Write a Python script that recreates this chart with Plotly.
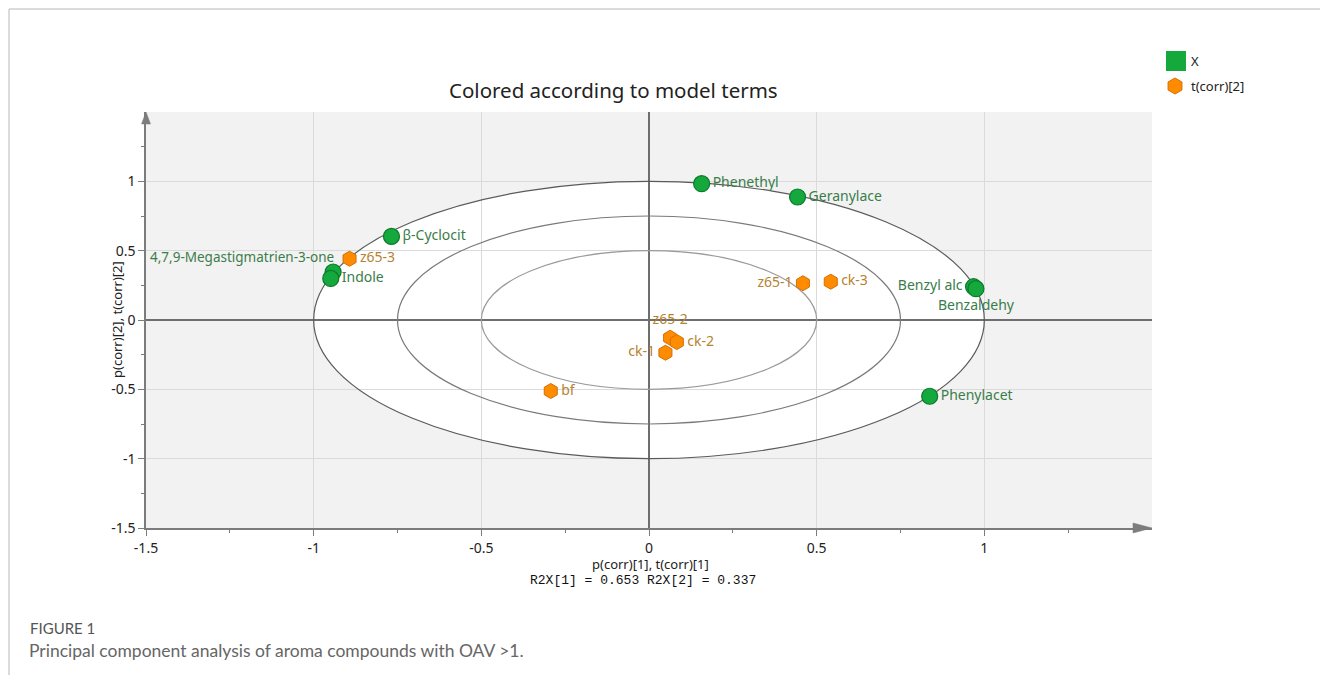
import plotly.graph_objects as go

# ---- loadings of the X variables: p(corr)[1], p(corr)[2] ----
var_names = ["Phenethyl", "Geranylace", "β-Cyclocit", "4,7,9-Megastigmatrien-3-one",
             "Indole", "Benzyl alc", "Benzaldehy", "Phenylacet"]
var_p1 = [0.157, 0.443, -0.768, -0.942, -0.949, 0.968, 0.975, 0.837]
var_p2 = [0.983, 0.887, 0.603, 0.346, 0.300, 0.240, 0.226, -0.550]

# ---- scores of the samples: t(corr)[1], t(corr)[2] ----
obs_names = ["z65-3", "z65-1", "ck-3", "z65-2", "ck-2", "ck-1", "bf"]
obs_t1 = [-0.893, 0.459, 0.542, 0.063, 0.083, 0.049, -0.293]
obs_t2 = [0.442, 0.265, 0.276, -0.128, -0.159, -0.236, -0.512]

# ---- axes / model summary ----
x_ticks = [-1.5, -1, -0.5, 0, 0.5, 1]
y_ticks = [-1.5, -1, -0.5, 0, 0.5, 1]
ellipse_radii = [1.0, 0.75, 0.5]
r2x = [0.653, 0.337]

# label placement for each point (None: placed as a separate annotation)
var_textpos = ["middle right", "middle right", "middle right", None,
               "middle right", "middle left", "bottom center", "middle right"]
obs_textpos = ["middle right", "middle left", "middle right", "top center",
               "middle right", "middle left", "middle right"]

# ---- page geometry ----
W, H = 1320, 675
ML, MR, MT, MB = 146, 168, 112, 147
PW, PH = W - ML - MR, H - MT - MB
XR, YR = [-1.5, 1.5], [-1.5, 1.5]


def px(xpix):
    return (xpix - ML) / PW


def py(ypix):
    return (H - MB - ypix) / PH


FONT = "Noto Sans"
GREEN, GREEN_EDGE, GREEN_TXT = "#14a83d", "#0b7a2b", "#3b7d4a"
ORANGE, ORANGE_EDGE, ORANGE_TXT = "#ff8c00", "#d36f00", "#b5822f"


def fmt(v):
    return f"{v:g}"


fig = go.Figure()

var_text = [n if p is not None else "" for n, p in zip(var_names, var_textpos)]
var_pos = [p if p is not None else "middle right" for p in var_textpos]

fig.add_trace(go.Scatter(
    x=var_p1, y=var_p2, text=var_text, mode="markers+text",
    textposition=var_pos, name="X", showlegend=False,
    marker=dict(symbol="circle", size=16, color=GREEN,
                line=dict(color=GREEN_EDGE, width=1.2)),
    textfont=dict(family=FONT, size=14, color=GREEN_TXT),
    cliponaxis=False,
))

fig.add_trace(go.Scatter(
    x=obs_t1, y=obs_t2, text=obs_names, mode="markers+text",
    textposition=obs_textpos, name="t(corr)[2]", showlegend=False,
    marker=dict(symbol="hexagon", size=15, color=ORANGE,
                line=dict(color=ORANGE_EDGE, width=1)),
    textfont=dict(family=FONT, size=14, color=ORANGE_TXT),
    cliponaxis=False,
))

shapes = []
# white interior of the outer ellipse, under the grid
r_out = max(ellipse_radii)
shapes.append(dict(type="circle", xref="x", yref="y", x0=-r_out, x1=r_out,
                   y0=-r_out, y1=r_out, fillcolor="white",
                   line=dict(width=0), layer="below"))
ell_colors = ["#5a5a5a", "#7a7a7a", "#9a9a9a"]
for r, c in zip(ellipse_radii, ell_colors):
    shapes.append(dict(type="circle", xref="x", yref="y", x0=-r, x1=r,
                       y0=-r, y1=r, line=dict(color=c, width=1.2),
                       layer="between"))

# arrowheads at the ends of both axes (paper coords so they are not clipped)
AX = "#7c7c7c"
x_left, y_top = px(ML), py(MT)
x_right, y_bot = px(ML + PW), py(MT + PH)
ay_base = py(MT + 12)
ahw = 4.5 / PW
shapes.append(dict(type="path", xref="paper", yref="paper",
                   path=f"M {x_left-ahw} {ay_base} L {x_left} {y_top} L {x_left+ahw} {ay_base} Z",
                   fillcolor=AX, line=dict(color=AX, width=0.5), layer="above"))
ax_base = px(ML + PW - 19)
ahh = 5 / PH
shapes.append(dict(type="path", xref="paper", yref="paper",
                   path=f"M {ax_base} {y_bot+ahh} L {x_right} {y_bot} L {ax_base} {y_bot-ahh} Z",
                   fillcolor=AX, line=dict(color=AX, width=0.5), layer="above"))

# page frame (top and left edges)
FR = "#cfcfcf"
shapes.append(dict(type="line", xref="paper", yref="paper", x0=px(9), x1=px(W + 5),
                   y0=py(9), y1=py(9), line=dict(color=FR, width=1.5)))
shapes.append(dict(type="line", xref="paper", yref="paper", x0=px(9), x1=px(9),
                   y0=py(9), y1=py(H + 5), line=dict(color=FR, width=1.5)))

# legend swatches
shapes.append(dict(type="rect", xref="paper", yref="paper",
                   x0=px(1166), x1=px(1186), y0=py(51), y1=py(71),
                   fillcolor=GREEN, line=dict(width=0)))
hx, hy, hr = 1175, 86, 8
hex_pts = [(hx + 0.866 * hr, hy - hr / 2), (hx + 0.866 * hr, hy + hr / 2), (hx, hy + hr),
           (hx - 0.866 * hr, hy + hr / 2), (hx - 0.866 * hr, hy - hr / 2), (hx, hy - hr)]
hex_path = "M " + " L ".join(f"{px(a)} {py(b)}" for a, b in hex_pts) + " Z"
shapes.append(dict(type="path", xref="paper", yref="paper", path=hex_path,
                   fillcolor=ORANGE, line=dict(color=ORANGE_EDGE, width=1)))

annotations = [
    dict(text="X", xref="paper", yref="paper", x=px(1189), y=py(61),
         xanchor="left", yanchor="middle", showarrow=False,
         font=dict(family=FONT, size=13, color="#222")),
    dict(text="t(corr)[2]", xref="paper", yref="paper", x=px(1189), y=py(86),
         xanchor="left", yanchor="middle", showarrow=False,
         font=dict(family=FONT, size=13, color="#222")),
    dict(text="Colored according to model terms", xref="paper", yref="paper",
         x=px(613), y=py(90), xanchor="center", yanchor="middle", showarrow=False,
         font=dict(family=FONT, size=20.5, color="#222")),
    dict(text="p(corr)[2], t(corr)[2]", xref="paper", yref="paper",
         x=px(117), y=py(320), xanchor="center", yanchor="middle", textangle=-90,
         showarrow=False, font=dict(family=FONT, size=13, color="#222")),
    dict(text="p(corr)[1], t(corr)[1]", xref="paper", yref="paper",
         x=px(650), y=py(564), xanchor="center", yanchor="middle",
         showarrow=False, font=dict(family=FONT, size=13, color="#222")),
    dict(text=f"R2X[1] = {r2x[0]:.3f} R2X[2] = {r2x[1]:.3f}", xref="paper", yref="paper",
         x=px(643), y=py(580), xanchor="center", yanchor="middle",
         showarrow=False, font=dict(family="Liberation Mono", size=13, color="#111")),
    dict(text="FIGURE 1", xref="paper", yref="paper",
         x=px(28), y=py(628), xanchor="left", yanchor="middle",
         showarrow=False, font=dict(family="Lato", size=15, color="#555")),
    dict(text="Principal component analysis of aroma compounds with OAV >1.",
         xref="paper", yref="paper", x=px(27), y=py(650), xanchor="left",
         yanchor="middle", showarrow=False,
         font=dict(family="Lato", size=17.5, color="#666")),
]

# long variable label sits above-left of its marker
for i, p in enumerate(var_textpos):
    if p is None:
        annotations.append(dict(
            text=var_names[i], x=var_p1[i], y=var_p2[i], xref="x", yref="y",
            xanchor="right", yanchor="middle", xshift=3, yshift=15,
            showarrow=False, font=dict(family=FONT, size=13.5, color=GREEN_TXT)))

minor_x = [v + 0.25 for v in x_ticks]
minor_y = [v + 0.25 for v in y_ticks]

axis_common = dict(
    showgrid=True, gridcolor="#dadada", gridwidth=1,
    zeroline=True, zerolinecolor="#6e6e6e", zerolinewidth=1.5,
    showline=True, linecolor=AX, linewidth=1.5,
    ticks="outside", ticklen=6, tickwidth=1, tickcolor=AX,
    tickfont=dict(family=FONT, size=14, color="#222"),
    fixedrange=True,
)

fig.update_layout(
    width=W, height=H,
    margin=dict(l=ML, r=MR, t=MT, b=MB),
    paper_bgcolor="white", plot_bgcolor="#f2f2f2",
    showlegend=False,
    xaxis=dict(range=XR, tickmode="array", tickvals=x_ticks,
               ticktext=[fmt(v) for v in x_ticks],
               minor=dict(tickmode="array", tickvals=minor_x, ticks="outside",
                          ticklen=3, tickcolor=AX, showgrid=False),
               **axis_common),
    yaxis=dict(range=YR, tickmode="array", tickvals=y_ticks,
               ticktext=[fmt(v) for v in y_ticks],
               minor=dict(tickmode="array", tickvals=minor_y, ticks="outside",
                          ticklen=3, tickcolor=AX, showgrid=False),
               **axis_common),
    shapes=shapes,
    annotations=annotations,
)

fig.write_html("out.html", config={"displayModeBar": False})
